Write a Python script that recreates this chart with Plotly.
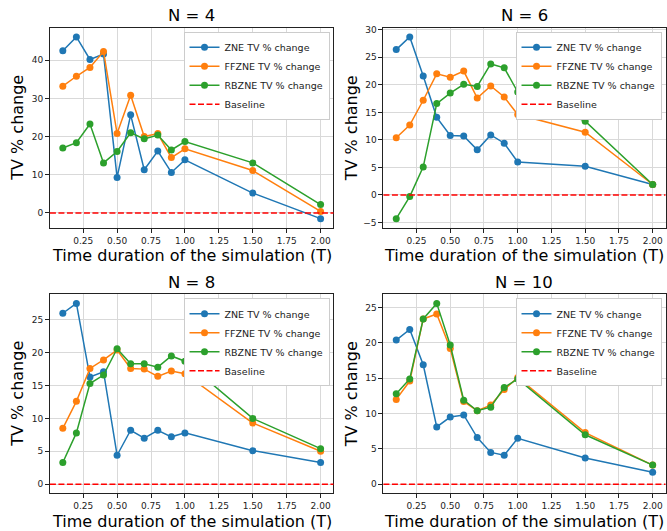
import plotly.graph_objects as go

T = [0.1, 0.2, 0.3, 0.4, 0.5, 0.6, 0.7, 0.8, 0.9, 1.0, 1.5, 2.0]
panel_titles = ["N = 4", "N = 6", "N = 8", "N = 10"]
series_names = ["ZNE TV % change", "FFZNE TV % change", "RBZNE TV % change"]
baseline_value = 0
x_label = "Time duration of the simulation (T)"
y_label = "TV % change"

zne_n4 = [42.5, 46.1, 40.2, 41.6, 9.3, 25.7, 11.3, 16.2, 10.6, 13.9, 5.2, -1.5]
ffzne_n4 = [33.2, 35.8, 38.1, 42.3, 20.8, 30.8, 20.0, 20.8, 14.5, 16.8, 11.1, 0.4]
rbzne_n4 = [17.0, 18.4, 23.3, 13.1, 16.1, 21.0, 19.4, 20.4, 16.5, 18.7, 13.1, 2.2]

zne_n6 = [26.4, 28.7, 21.6, 14.1, 10.8, 10.7, 8.2, 10.9, 9.4, 6.0, 5.2, 1.9]
ffzne_n6 = [10.4, 12.7, 17.2, 22.0, 21.4, 22.5, 17.6, 19.8, 17.8, 14.6, 11.4, 1.9]
rbzne_n6 = [-4.3, -0.3, 5.1, 16.6, 18.5, 20.1, 19.7, 23.8, 23.1, 18.7, 13.4, 1.9]

zne_n8 = [26.0, 27.5, 16.3, 17.1, 4.4, 8.2, 7.0, 8.2, 7.2, 7.8, 5.1, 3.3]
ffzne_n8 = [8.5, 12.6, 17.6, 18.9, 20.4, 17.6, 17.5, 16.4, 17.2, 16.8, 9.3, 5.0]
rbzne_n8 = [3.3, 7.8, 15.3, 16.6, 20.6, 18.3, 18.3, 17.8, 19.5, 18.7, 10.0, 5.4]

zne_n10 = [20.4, 21.9, 16.9, 8.1, 9.5, 9.8, 6.6, 4.5, 4.1, 6.5, 3.7, 1.7]
ffzne_n10 = [12.0, 14.6, 23.4, 24.1, 19.2, 11.7, 10.4, 11.2, 13.4, 15.1, 7.3, 2.7]
rbzne_n10 = [12.8, 14.9, 23.4, 25.6, 19.7, 11.9, 10.4, 10.9, 13.7, 14.9, 7.0, 2.7]

panels = [
    (zne_n4, ffzne_n4, rbzne_n4),
    (zne_n6, ffzne_n6, rbzne_n6),
    (zne_n8, ffzne_n8, rbzne_n8),
    (zne_n10, ffzne_n10, rbzne_n10),
]
y_dticks = [10, 5, 5, 5]

colors = ["#1f77b4", "#ff7f0e", "#2ca02c"]
W, H = 667, 531
FONT = "DejaVu Sans, sans-serif"

# axes boxes in pixels (left, right, top, bottom)
boxes = [
    (50, 334, 25, 226),
    (384, 666.5, 25, 226),
    (50, 334, 293, 493),
    (384, 666.5, 293, 493),
]
ylabel_x = [18, 352, 18, 352]

fig = go.Figure()
grid = "#d9d9d9"

for i, (data, box) in enumerate(zip(panels, boxes)):
    k = "" if i == 0 else str(i + 1)
    xa, ya = "x" + k, "y" + k
    lg = "legend" + k
    l, r, t, b = box
    for name, vals, c in zip(series_names, data, colors):
        fig.add_trace(go.Scatter(
            x=T, y=vals, name=name, mode="lines+markers",
            line=dict(color=c, width=1.5),
            marker=dict(color=c, size=7),
            xaxis=xa, yaxis=ya, legend=lg, showlegend=True,
        ))
    fig.add_shape(type="line", xref=xa + " domain", x0=0, x1=1,
                  yref=ya, y0=baseline_value, y1=baseline_value,
                  line=dict(color="red", width=1.5, dash="6px,2.5px"),
                  name="Baseline", showlegend=True, legend=lg)
    allv = [v for s in data for v in s] + [baseline_value]
    lo, hi = min(allv), max(allv)
    pad = 0.05 * (hi - lo)
    xpad = 0.05 * (max(T) - min(T))
    common = dict(showline=True, linecolor="#222", linewidth=1, mirror=True,
                  ticks="outside", ticklen=4, tickcolor="#222",
                  showgrid=True, gridcolor=grid, gridwidth=1.2, zeroline=False,
                  tickfont=dict(family=FONT, size=9, color="#222"))
    fig.layout["xaxis" + k] = dict(
        domain=[l / W, r / W], anchor=ya,
        range=[min(T) - xpad, max(T) + xpad],
        tickmode="linear", tick0=0, dtick=0.25, tickformat=".2f",
        **common)
    fig.layout["yaxis" + k] = dict(
        domain=[1 - b / H, 1 - t / H], anchor=xa,
        range=[lo - pad, hi + pad],
        tickmode="linear", tick0=0, dtick=y_dticks[i],
        **common)
    fig.layout[lg] = dict(
        x=(r - 4) / W, y=1 - (t + 4) / H, xanchor="right", yanchor="top",
        xref="paper", yref="paper",
        bgcolor="white", bordercolor="#cccccc", borderwidth=1,
        font=dict(family=FONT, size=9.5, color="#222"),
        itemwidth=30, tracegroupgap=0,
    )
    fig.add_annotation(text=panel_titles[i], x=(l + r) / 2 / W, y=1 - (t - 12) / H,
                       xref="paper", yref="paper", xanchor="center", yanchor="middle",
                       showarrow=False, font=dict(family=FONT, size=16.5, color="black"))
    fig.add_annotation(text=x_label, x=(l + r) / 2 / W, y=1 - (b + 28) / H,
                       xref="paper", yref="paper", xanchor="center", yanchor="middle",
                       showarrow=False, font=dict(family=FONT, size=16, color="black"))
    fig.add_annotation(text=y_label, x=ylabel_x[i] / W, y=1 - (t + b) / 2 / H,
                       xref="paper", yref="paper", xanchor="center", yanchor="middle",
                       textangle=-90,
                       showarrow=False, font=dict(family=FONT, size=16, color="black"))

fig.update_layout(
    width=W, height=H, margin=dict(l=0, r=0, t=0, b=0),
    paper_bgcolor="white", plot_bgcolor="white",
    font=dict(family=FONT),
)
fig.write_html("out.html")
